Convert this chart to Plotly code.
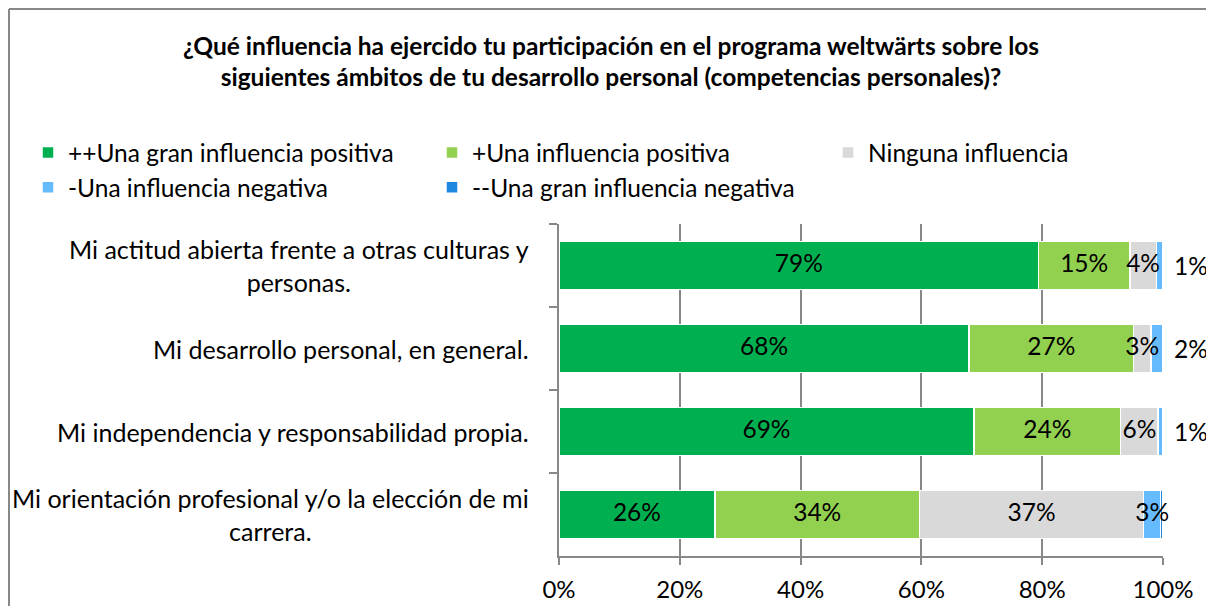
import plotly.graph_objects as go

# categories (top to bottom)
categories = ['Mi actitud abierta frente a otras culturas y<br>personas.',
              'Mi desarrollo personal, en general.',
              'Mi independencia y responsabilidad propia.',
              'Mi orientación profesional y/o la elección de mi<br>carrera.']

series_names = ['++Una gran influencia positiva', '+Una influencia positiva', 'Ninguna influencia',
                '-Una influencia negativa', '--Una gran influencia negativa']
series_colors = ['#00B050', '#92D050', '#D9D9D9', '#66BBFF', '#1E88E0']
# legend column each series sits in (the original legend has 3 columns)
series_legend = ['legend', 'legend2', 'legend3', 'legend', 'legend2']

# shares in percent per category
gran_positiva = [79.4, 67.9, 68.7, 25.8]
positiva = [15.1, 27.2, 24.3, 33.9]
ninguna = [4.4, 2.9, 6.2, 37.1]
negativa = [1.1, 2.0, 0.8, 2.8]
gran_negativa = [0.0, 0.0, 0.0, 0.4]

series_values = [gran_positiva, positiva, ninguna, negativa, gran_negativa]

FONT = 'Lato'
SIZE = 24.5
W, H = 1206, 598  # page body adds an 8px margin
ML, MR, MT, MB = 551, 51, 216, 50
PW, PH = W - ML - MR, H - MT - MB

fig = go.Figure()

for name, color, vals, lg in zip(series_names, series_colors, series_values, series_legend):
    fig.add_trace(go.Bar(y=categories, x=[v / 100 for v in vals], name=name, orientation='h',
                         legend=lg,
                         marker=dict(color=color, line=dict(color='white', width=1.5)),
                         hovertemplate='%{y}: %{x:.0%}<extra></extra>'))

# data labels, drawn on top of all the bars
lab_x, lab_y, lab_t = [], [], []
for i, cat in enumerate(categories):
    start = 0
    for name, vals in zip(series_names, series_values):
        v = vals[i]
        if name != '--Una gran influencia negativa' and not (name == '-Una influencia negativa' and v < 2.5):
            lab_x.append((start + v / 2) / 100)
            lab_y.append(cat)
            lab_t.append(f'{v:.0f}%')
        start += v
fig.add_trace(go.Scatter(x=lab_x, y=lab_y, text=lab_t, mode='text', showlegend=False,
                         textfont=dict(size=SIZE, color='black', family=FONT),
                         cliponaxis=False, hoverinfo='skip'))

# labels for small negative segments, next to the bar end
for cat, vals in zip(categories, zip(*series_values)):
    if vals[3] < 2.5:
        fig.add_annotation(x=sum(vals) / 100, y=cat, xref='x', yref='y', text=f'{vals[3]:.0f}%',
                           showarrow=False, xanchor='left', xshift=9,
                           font=dict(size=SIZE, color='black', family=FONT))

# category labels, centred multi-line like the original
for cat in categories:
    fig.add_annotation(x=0, y=cat, xref='paper', yref='y', text=cat, showarrow=False,
                       xanchor='right', align='center', xshift=-28,
                       font=dict(size=25, color='black', family=FONT))

legend_style = dict(orientation='v', xref='container', yref='container', xanchor='left',
                    yanchor='top', y=0.796, traceorder='normal', tracegroupgap=0,
                    font=dict(size=SIZE, family=FONT, color='black'), bgcolor='rgba(0,0,0,0)')

fig.update_layout(
    barmode='stack', bargap=0.42,
    width=W, height=H,
    margin=dict(l=ML, r=MR, t=MT, b=MB, autoexpand=False),
    paper_bgcolor='white', plot_bgcolor='white',
    font=dict(family=FONT, size=SIZE, color='black'),
    title=dict(text='<b>¿Qué influencia ha ejercido tu participación en el programa weltwärts sobre los<br>'
                    'siguientes ámbitos de tu desarrollo personal (competencias personales)?</b>',
               x=0.5, xanchor='center', y=0.922, yanchor='top', yref='container',
               font=dict(size=24.5, family=FONT, color='black')),
    legend=dict(x=20 / W, **legend_style),
    legend2=dict(x=424 / W, **legend_style),
    legend3=dict(x=820 / W, **legend_style),
    showlegend=True,
)
fig.update_xaxes(range=[0, 1], dtick=0.2, tickformat='.0%', showgrid=True, gridcolor='#888888',
                 gridwidth=2, showline=True, linecolor='#888888', linewidth=2, ticks='outside',
                 tickcolor='#888888', tickwidth=2, ticklen=7, zeroline=False,
                 ticklabelstandoff=4, tickfont=dict(size=24, family=FONT))
fig.update_yaxes(autorange='reversed', showticklabels=False, showline=True, linecolor='#888888',
                 linewidth=2, ticks='outside', tickson='boundaries', tickcolor='#888888',
                 tickwidth=2, ticklen=8, showgrid=False)

# outer frame of the chart area (top and left edges)
frame = dict(color='#888888', width=2)
fig.add_shape(type='line', xref='paper', yref='paper', x0=(1 - ML) / PW, x1=(W - ML) / PW,
              y0=1 + (MT - 1) / PH, y1=1 + (MT - 1) / PH, line=frame, layer='below')
fig.add_shape(type='line', xref='paper', yref='paper', x0=(1 - ML) / PW, x1=(1 - ML) / PW,
              y0=-MB / PH, y1=1 + (MT - 1) / PH, line=frame, layer='below')

fig.write_html('out.html')
